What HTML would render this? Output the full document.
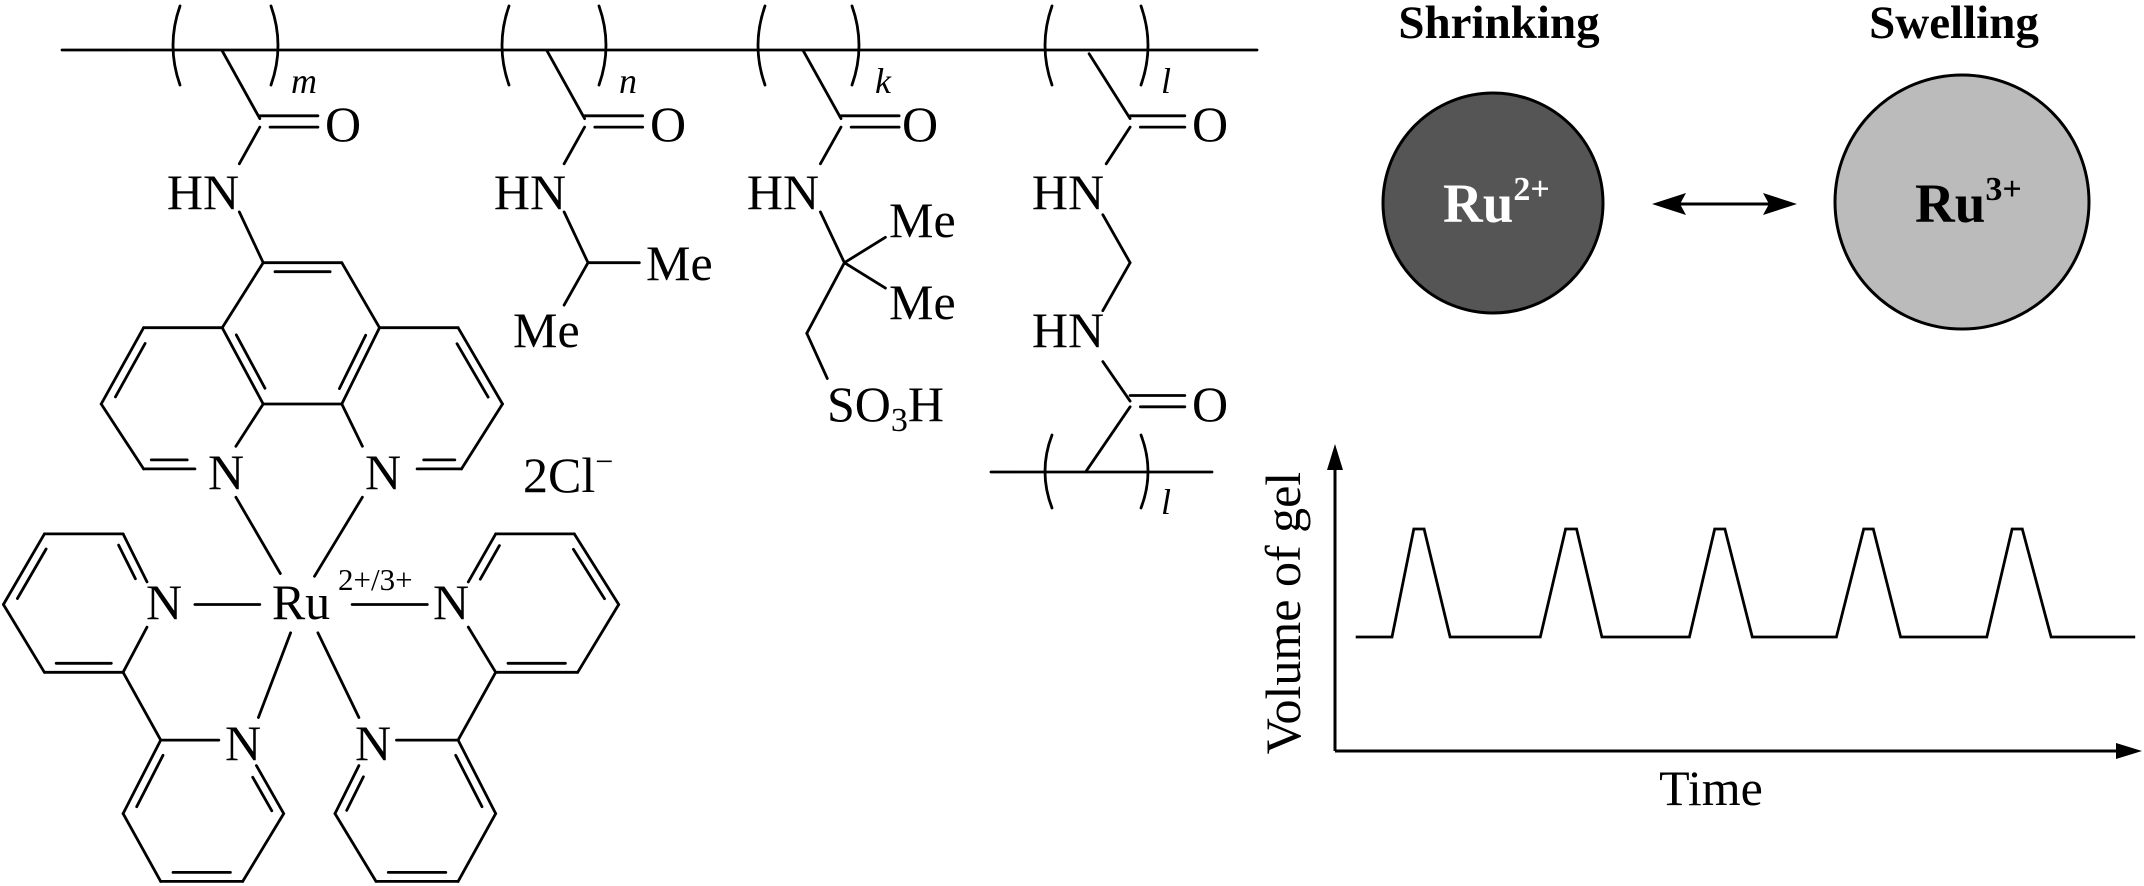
<!DOCTYPE html>
<html><head><meta charset="utf-8"><style>
html,body{margin:0;padding:0;background:#fff;width:2144px;height:886px;overflow:hidden}
svg text{font-family:"Liberation Serif",serif;fill:#000}
</style></head><body>
<svg id="s" width="2144" height="886" viewBox="0 0 2144 886" xmlns="http://www.w3.org/2000/svg">
<g id="g" stroke="#000" stroke-width="2.8" fill="none" stroke-linecap="round"></g>
<g font-size="50">
<text x="203" y="209" text-anchor="middle">HN</text>
<text x="530" y="209" text-anchor="middle">HN</text>
<text x="783" y="209" text-anchor="middle">HN</text>
<text x="1068" y="209" text-anchor="middle">HN</text>
<text x="1068" y="347" text-anchor="middle">HN</text>
<text x="325" y="141">O</text>
<text x="650" y="141">O</text>
<text x="902" y="141">O</text>
<text x="1192" y="141">O</text>
<text x="1192" y="421">O</text>
<text x="646" y="280">Me</text>
<text x="513" y="347">Me</text>
<text x="889" y="237">Me</text>
<text x="889" y="319">Me</text>
<text x="827" y="421">SO<tspan font-size="34" dy="10">3</tspan><tspan dy="-10">H</tspan></text>
<text x="226" y="489" text-anchor="middle">N</text>
<text x="383" y="489" text-anchor="middle">N</text>
<text x="164" y="619" text-anchor="middle">N</text>
<text x="451" y="619" text-anchor="middle">N</text>
<text x="243" y="760" text-anchor="middle">N</text>
<text x="373" y="760" text-anchor="middle">N</text>
<text x="301" y="619" text-anchor="middle">Ru</text>
<text x="523" y="492">2Cl<tspan font-size="32" dy="-20">−</tspan></text>
</g>
<text x="338" y="590" font-size="31">2+/3+</text>
<g font-size="36" font-style="italic">
<text x="291" y="93">m</text>
<text x="619" y="93">n</text>
<text x="875" y="93">k</text>
<text x="1161" y="93">l</text>
<text x="1161" y="514">l</text>
</g>
<text x="1499" y="38" font-size="47" font-weight="bold" text-anchor="middle">Shrinking</text>
<text x="1954" y="38" font-size="47" font-weight="bold" text-anchor="middle">Swelling</text>
<circle cx="1493" cy="203" r="110" fill="#555" stroke="#000" stroke-width="3"/>
<circle cx="1962" cy="202" r="127" fill="#bbb" stroke="#000" stroke-width="3"/>
<text x="1443" y="222" font-size="55" font-weight="bold" style="fill:#fff">Ru<tspan font-size="34" dy="-22">2+</tspan></text>
<text x="1915" y="222" font-size="55" font-weight="bold">Ru<tspan font-size="34" dy="-22">3+</tspan></text>
<line x1="1670" y1="204" x2="1780" y2="204" stroke="#000" stroke-width="3"/>
<path d="M1652,204 L1686,193 L1680,204 L1686,215 Z" fill="#000"/>
<path d="M1797,204 L1763,193 L1769,204 L1763,215 Z" fill="#000"/>
<line x1="1335" y1="455" x2="1335" y2="751" stroke="#000" stroke-width="3"/>
<line x1="1335" y1="751" x2="2130" y2="751" stroke="#000" stroke-width="3"/>
<path d="M1335,444 L1327,470 L1343,470 Z" fill="#000"/>
<path d="M2142,751 L2116,743 L2116,759 Z" fill="#000"/>
<polyline id="wave" fill="none" stroke="#000" stroke-width="2.8" stroke-linejoin="miter"/>
<text x="1300" y="613" font-size="50" text-anchor="middle" transform="rotate(-90 1300 613)">Volume of gel</text>
<text x="1711" y="805" font-size="50" text-anchor="middle">Time</text>
</svg>
<script>
var g=document.getElementById('g'),out='';
function L(x,y){return [x*0.6837,y*0.565];}
function R(x,y){return [1072+x*0.6837,y*0.565];}
function ln(a,b){out+='<line x1="'+a[0].toFixed(1)+'" y1="'+a[1].toFixed(1)+'" x2="'+b[0].toFixed(1)+'" y2="'+b[1].toFixed(1)+'"/>';}
function dbl(a,b,c){ln(a,b);var dx=b[0]-a[0],dy=b[1]-a[1],l=Math.hypot(dx,dy),nx=-dy/l,ny=dx/l;
 var mx=(a[0]+b[0])/2,my=(a[1]+b[1])/2;if((c[0]-mx)*nx+(c[1]-my)*ny<0){nx=-nx;ny=-ny;}
 var d=9,s=0.15;ln([a[0]+dx*s+nx*d,a[1]+dy*s+ny*d],[b[0]-dx*s+nx*d,b[1]-dy*s+ny*d]);}
function paren(x,y1,y2,open){var m=(y1+y2)/2,w=open?-14:14;out+='<path d="M'+x+','+y1+' Q'+(x+w)+','+m+' '+x+','+y2+'"/>';}
function P(f,pts){for(var i=0;i<pts.length-1;i++)ln(f.apply(null,pts[i]),f.apply(null,pts[i+1]));}
ln([62,50],[1257,50]);
[[180,271],[509,599],[765,852]].forEach(function(p){paren(p[0],6,85,1);paren(p[1],6,85,0);});
paren(1052,6,85,1);paren(1141,6,85,0);
ln([991,472],[1212,472]);paren(1052,435,508,1);paren(1141,435,508,0);
ln(L(325,90),L(380,210));ln(L(380,205),L(465,205));ln(L(395,225),L(465,225));
ln(L(380,225),L(350,290));ln(L(350,375),L(385,465));
var C1=L(385,465),C2=L(500,465),C3=L(555,580),C4=L(325,580),C5=L(500,715),C6=L(385,715),cc=L(440,590);
dbl(C1,C2,cc);ln(C2,C3);dbl(C3,C5,cc);ln(C5,C6);dbl(C6,C4,cc);ln(C4,C1);
var a=L(210,580),b=L(148,715),c=L(210,830),lc=L(268,715);
ln(C4,a);dbl(a,b,lc);ln(b,c);dbl(c,L(285,830),lc);ln(L(345,790),C6);
var d=L(670,580),e=L(735,715),f=L(675,830),rc=L(615,715);
ln(C3,d);dbl(d,e,rc);ln(e,f);dbl(f,L(610,830),rc);ln(L(530,790),C5);
P(L,[[345,880],[410,1015]]);P(L,[[530,880],[460,1020]]);P(L,[[285,1070],[380,1070]]);P(L,[[515,1070],[625,1070]]);
P(L,[[425,1120],[378,1270]]);P(L,[[465,1120],[525,1270]]);
var ul=L(120,1068),g1=L(180,945),h=L(65,945),i1=L(5,1070),j=L(65,1190),k=L(180,1190);
dbl(L(215,1030),g1,ul);ln(g1,h);dbl(h,i1,ul);ln(i1,j);dbl(j,k,ul);ln(k,L(215,1110));
var l1=L(235,1310),m1=L(415,1440),n1=L(355,1560),o1=L(235,1560),p1=L(180,1440),llc=L(297,1440);
ln(k,l1);ln(l1,L(320,1310));dbl(L(375,1355),m1,llc);ln(m1,n1);dbl(n1,o1,llc);ln(o1,p1);dbl(p1,l1,llc);
var ur=L(785,1068),q=L(725,945),r=L(840,945),s=L(905,1070),t=L(845,1190),u=L(725,1190);
dbl(L(685,1030),q,ur);ln(q,r);dbl(r,s,ur);ln(s,t);dbl(t,u,ur);ln(u,L(685,1110));
var v=L(670,1310),w=L(725,1440),x=L(670,1560),y=L(550,1560),z=L(490,1440),lrc=L(608,1440);
ln(u,v);ln(v,L(580,1310));dbl(v,w,lrc);ln(w,x);dbl(x,y,lrc);ln(y,z);dbl(z,L(525,1355),lrc);
P(L,[[800,90],[855,210]]);ln(L(855,205),L(940,205));ln(L(870,225),L(940,225));
P(L,[[855,225],[825,290]]);P(L,[[825,375],[860,465],[935,465]]);P(L,[[860,465],[825,540]]);
P(L,[[1175,90],[1230,210]]);ln(L(1230,205),L(1315,205));ln(L(1245,225),L(1315,225));
P(L,[[1230,225],[1200,290]]);P(L,[[1200,375],[1235,465],[1295,420]]);P(L,[[1235,465],[1295,510]]);
P(L,[[1235,465],[1180,590],[1210,670]]);
P(R,[[25,95],[85,210]]);ln(R(85,205),R(165,205));ln(R(100,225),R(165,225));
P(R,[[85,225],[50,290]]);P(R,[[45,380],[85,465],[45,550]]);P(R,[[45,640],[85,710]]);
ln(R(85,700),R(165,700));ln(R(100,720),R(165,720));P(R,[[85,720],[20,835]]);
g.innerHTML=out;
var xs=[415,468,500,515,553,685,722,738,775,903,940,955,995,1118,1158,1172,1212,1338,1375,1390,1432,1555];
var ys=[0,0,1,1,0,0,1,1,0,0,1,1,0,0,1,1,0,0,1,1,0,0];
document.getElementById('wave').setAttribute('points',xs.map(function(X,idx){return (1072+X*0.6837).toFixed(1)+','+(ys[idx]?529:637);}).join(' '));
</script>
</body></html>
